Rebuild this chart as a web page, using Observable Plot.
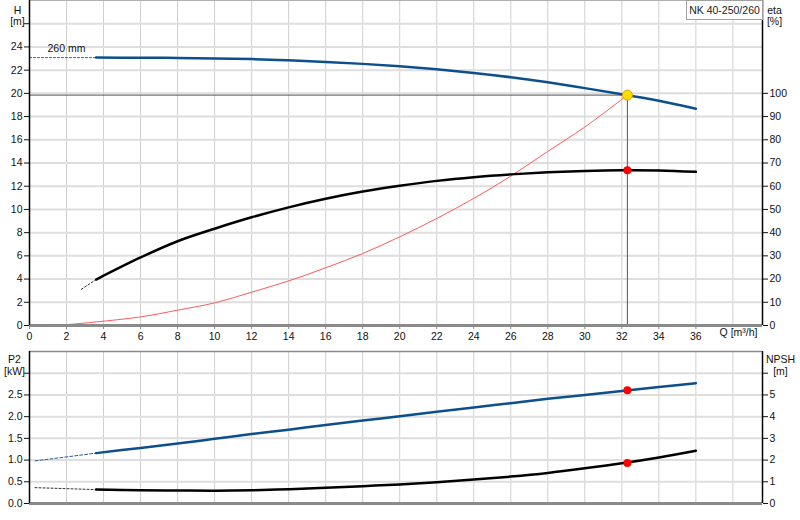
<!DOCTYPE html>
<html>
<head>
<meta charset="utf-8">
<script src="https://cdn.jsdelivr.net/npm/d3@7"></script>
<script src="https://cdn.jsdelivr.net/npm/@observablehq/plot@0.6"></script>
<style>
  html, body { margin: 0; padding: 0; background: #fff; }
  #wrap { position: relative; width: 800px; height: 520px; overflow: hidden; font-family: "Liberation Sans", Arial, sans-serif; }
  #wrap svg { display: block; }
  #model { position: absolute; left: 686px; top: 0; width: 77px; height: 20px; box-sizing: border-box;
           border: 1px solid #a0a0a0; background: #fff; font-size: 10.5px; line-height: 18px; text-align: center; color: #222; }
</style>
</head>
<body>
<div id="wrap"></div>
<script>
// ---------- data ----------
const modelName = "NK 40-250/260";
const impellerLabel = "260 mm";

// flow points of the solid curves [m³/h]
const Q = [3.6, 6, 8, 10, 12, 14, 16, 18, 20, 22, 24, 26, 28, 30, 32, 34, 36];
// head, 260 mm impeller [m]
const H260 = [23.08, 23.07, 23.05, 23.01, 22.95, 22.85, 22.71, 22.54, 22.33, 22.07, 21.76, 21.39, 20.95, 20.45, 19.93, 19.36, 18.68];
// efficiency [%]
const etaPct = [19.8, 29.3, 36.3, 41.7, 46.6, 50.9, 54.6, 57.7, 60.2, 62.3, 63.9, 65.1, 66.0, 66.6, 66.9, 66.8, 66.2];
// shaft power P2 [kW]
const P2kW = [1.16, 1.28, 1.38, 1.49, 1.60, 1.70, 1.81, 1.91, 2.01, 2.11, 2.21, 2.31, 2.41, 2.50, 2.59, 2.68, 2.77];
// NPSH [m]
const NPSHm = [0.64, 0.61, 0.60, 0.59, 0.61, 0.66, 0.72, 0.80, 0.88, 0.98, 1.10, 1.24, 1.41, 1.62, 1.85, 2.12, 2.43];

// dashed extensions towards low flow
const hExtQ = [0, 3.6],   hExt = [23.08, 23.08];
const etaExtQ = [2.8, 3.6], etaExt = [15.6, 19.8];
const p2ExtQ = [0.3, 3.6], p2Ext = [0.98, 1.16];
const npshExtQ = [0.3, 3.6], npshExt = [0.73, 0.64];

// system curve
const sysQ = [0.3, 2, 3.6, 6, 8, 10, 12, 14, 16, 18, 20, 22, 24, 26, 28, 30, 32.3];
const sysH = [0, 0.08, 0.31, 0.74, 1.32, 1.95, 2.87, 3.84, 4.97, 6.2, 7.64, 9.22, 10.95, 12.87, 15.0, 17.1, 19.85];

// duty point
const dutyQ = 32.3, dutyH = 19.85, dutyEta = 66.9, dutyP2 = 2.61, dutyNPSH = 1.87;

// axes / ticks
const qMax = 39.6;
const qTicks = [0, 2, 4, 6, 8, 10, 12, 14, 16, 18, 20, 22, 24, 26, 28, 30, 32, 34, 36];
const qGrid = [2, 4, 6, 8, 10, 12, 14, 16, 18, 20, 22, 24, 26, 28, 30, 32, 34, 36, 38];
const hMax = 28;
const hTicks = [0, 2, 4, 6, 8, 10, 12, 14, 16, 18, 20, 22, 24, 26];
const hGrid = [2, 4, 6, 8, 10, 12, 14, 16, 18, 20, 22, 24, 26];
const etaTicks = [0, 10, 20, 30, 40, 50, 60, 70, 80, 90, 100];
const etaPerH = 5;          // 100 % sits at 20 m
const pMax = 3.5;
const pTicks = [0, 0.5, 1.0, 1.5, 2.0, 2.5, 3.0];
const pGrid = [0.5, 1.0, 1.5, 2.0, 2.5, 3.0];
const npshTicks = [0, 1, 2, 3, 4, 5, 6];
const npshPerKW = 2;        // 1 kW sits at 2 m
const hTitle = ["H", "[m]"], etaTitle = ["eta", "[%]"], p2Title = ["P2", "[kW]"], npshTitle = ["NPSH", "[m]"];
const qTitle = "Q [m³/h]";

// ---------- tables ----------
const zip = (xs, ys) => xs.map((x, i) => ({x, y: ys[i]}));
const hLine = zip(Q, H260), hDash = zip(hExtQ, hExt);
const etaLine = zip(Q, etaPct.map(e => e / etaPerH)), etaDash = zip(etaExtQ, etaExt.map(e => e / etaPerH));
const sysLine = zip(sysQ, sysH);
const p2Line = zip(Q, P2kW), p2Dash = zip(p2ExtQ, p2Ext);
const npLine = zip(Q, NPSHm.map(v => v / npshPerKW)), npDash = zip(npshExtQ, npshExt.map(v => v / npshPerKW));

const font = "'Liberation Sans', Arial, sans-serif";
const blue = "#0b4f8c";
const curve = "catmull-rom";
const chartStyle = {fontFamily: font, fontSize: "10.5px", color: "#111", background: "#fff", overflow: "visible"};

const topChart = Plot.plot({
  width: 800, height: 345,
  marginLeft: 29, marginRight: 38, marginTop: 0, marginBottom: 20,
  x: {domain: [0, qMax]},
  y: {domain: [0, hMax]},
  style: chartStyle,
  marks: [
    Plot.ruleX(qGrid, {stroke: "#cfcfcf", strokeWidth: 1}),
    Plot.ruleY(hGrid, {stroke: "#dedede", strokeWidth: 2}),
    Plot.ruleY([hMax], {stroke: "#b0b0b0", strokeWidth: 1}),
    // duty lines
    Plot.ruleY([dutyH], {x1: 0, x2: dutyQ, stroke: "#555", strokeWidth: 1}),
    Plot.ruleX([dutyQ], {y1: 0, y2: dutyH, stroke: "#555", strokeWidth: 1}),
    // system curve
    Plot.line(sysLine, {x: "x", y: "y", stroke: "#ff5a5a", strokeWidth: 1, curve}),
    // efficiency
    Plot.line(etaDash, {x: "x", y: "y", stroke: "#333", strokeWidth: 1, strokeDasharray: "2,2"}),
    Plot.line(etaLine, {x: "x", y: "y", stroke: "#000", strokeWidth: 2.5, curve}),
    // head
    Plot.line(hDash, {x: "x", y: "y", stroke: "#2a5f9a", strokeWidth: 1, strokeDasharray: "2,2"}),
    Plot.line(hLine, {x: "x", y: "y", stroke: blue, strokeWidth: 2.5, curve}),
    Plot.text([{x: hExtQ[0], y: hExt[0], t: impellerLabel}], {x: "x", y: "y", text: "t", textAnchor: "start", dx: 18, dy: -9, fill: "#111"}),
    // axes lines
    Plot.ruleY([0], {stroke: "#8a8a8a", strokeWidth: 3}),
    Plot.ruleX([0], {stroke: "#000", strokeWidth: 1.5}),
    Plot.ruleX([qMax], {stroke: "#000", strokeWidth: 1.5}),
    // points
    Plot.dot([{x: dutyQ, y: dutyEta / etaPerH}], {x: "x", y: "y", r: 4, fill: "#ff0000"}),
    Plot.dot([{x: dutyQ, y: dutyH}], {x: "x", y: "y", r: 5, fill: "#ffdd00", stroke: "#e0a000", strokeWidth: 1}),
    // axes
    Plot.axisY(hTicks, {anchor: "left", label: null, tickSize: 5, tickPadding: 2, tickFormat: d => d <= 24 ? d : ""}),
    Plot.axisY(etaTicks.map(e => e / etaPerH), {anchor: "right", label: null, tickSize: 5, tickPadding: 2, tickFormat: d => Math.round(d * etaPerH)}),
    Plot.axisX(qTicks, {anchor: "bottom", label: null, tickSize: 4, tickPadding: 3, stroke: "#888", tickFormat: d => d}),
    Plot.text([qTitle], {text: d => d, frameAnchor: "bottom-right", textAnchor: "end", dx: -5, dy: 10, fill: "#111"}),
    Plot.text([hTitle[0]], {text: d => d, frameAnchor: "top-left", textAnchor: "middle", dx: -12, dy: 6, fill: "#111"}),
    Plot.text([hTitle[1]], {text: d => d, frameAnchor: "top-left", textAnchor: "middle", dx: -12, dy: 17, fill: "#111"}),
    Plot.text([etaTitle[0]], {text: d => d, frameAnchor: "top-right", textAnchor: "middle", dx: 12, dy: 6, fill: "#111"}),
    Plot.text([etaTitle[1]], {text: d => d, frameAnchor: "top-right", textAnchor: "middle", dx: 12, dy: 17, fill: "#111"})
  ]
});

const bottomChart = Plot.plot({
  width: 800, height: 175,
  marginLeft: 29, marginRight: 38, marginTop: 6, marginBottom: 17,
  x: {domain: [0, qMax], axis: null},
  y: {domain: [0, pMax]},
  style: chartStyle,
  marks: [
    Plot.ruleX(qGrid, {stroke: "#cfcfcf", strokeWidth: 1}),
    Plot.ruleY(pGrid, {stroke: "#dedede", strokeWidth: 2}),
    Plot.ruleY([pMax], {stroke: "#8a8a8a", strokeWidth: 1.5}),
    // NPSH
    Plot.line(npDash, {x: "x", y: "y", stroke: "#333", strokeWidth: 1, strokeDasharray: "2,2"}),
    Plot.line(npLine, {x: "x", y: "y", stroke: "#000", strokeWidth: 2.5, curve}),
    // P2
    Plot.line(p2Dash, {x: "x", y: "y", stroke: "#2a5f9a", strokeWidth: 1, strokeDasharray: "3,2"}),
    Plot.line(p2Line, {x: "x", y: "y", stroke: blue, strokeWidth: 2.5, curve}),
    Plot.ruleY([0], {stroke: "#8a8a8a", strokeWidth: 3}),
    Plot.ruleX([0], {stroke: "#000", strokeWidth: 1.5}),
    Plot.ruleX([qMax], {stroke: "#000", strokeWidth: 1.5}),
    Plot.dot([{x: dutyQ, y: dutyP2}, {x: dutyQ, y: dutyNPSH / npshPerKW}], {x: "x", y: "y", r: 4, fill: "#ff0000"}),
    Plot.axisY(pTicks, {anchor: "left", label: null, tickSize: 5, tickPadding: 2, tickFormat: d => d <= 2.5 ? d3.format(".1f")(d) : ""}),
    Plot.axisY(npshTicks.map(v => v / npshPerKW), {anchor: "right", label: null, tickSize: 5, tickPadding: 2, tickFormat: d => d * npshPerKW <= 5 ? Math.round(d * npshPerKW) : ""}),
    Plot.text([p2Title[0]], {text: d => d, frameAnchor: "top-left", textAnchor: "middle", dx: -15, dy: 4, fill: "#111"}),
    Plot.text([p2Title[1]], {text: d => d, frameAnchor: "top-left", textAnchor: "middle", dx: -15, dy: 16, fill: "#111"}),
    Plot.text([npshTitle[0]], {text: d => d, frameAnchor: "top-right", textAnchor: "middle", dx: 18, dy: 4, fill: "#111"}),
    Plot.text([npshTitle[1]], {text: d => d, frameAnchor: "top-right", textAnchor: "middle", dx: 18, dy: 16, fill: "#111"})
  ]
});

const wrap = document.getElementById("wrap");
wrap.appendChild(topChart);
wrap.appendChild(bottomChart);
const box = document.createElement("div");
box.id = "model";
box.textContent = modelName;
wrap.appendChild(box);
</script>
</body>
</html>
